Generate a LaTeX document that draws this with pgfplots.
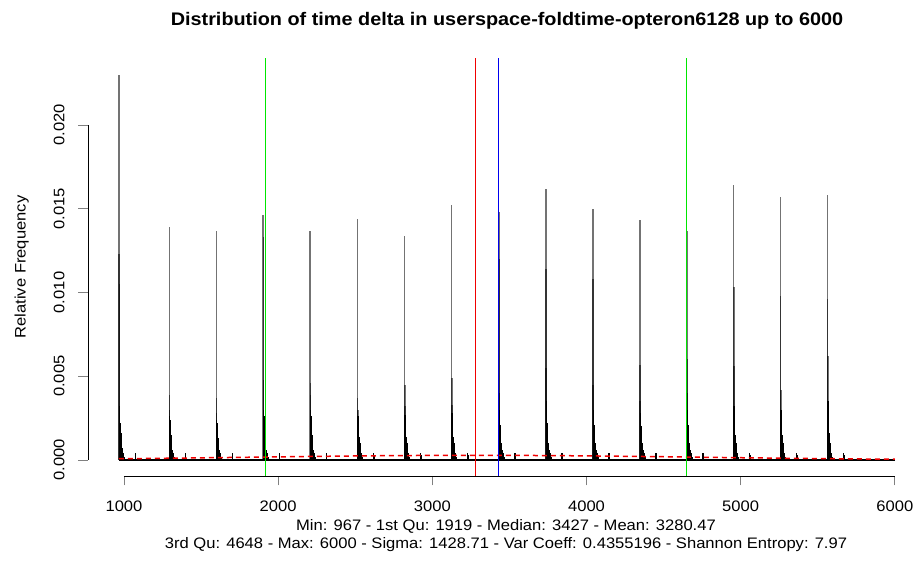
\documentclass[border=0pt]{standalone}
\usepackage{fontspec}
\setmainfont{Liberation Sans}[FakeStretch=1.09]
\usepackage{pgfplots}
\pgfplotsset{compat=1.18}
\definecolor{lgreen}{RGB}{0,230,0}
\definecolor{lred}{RGB}{240,0,0}
\definecolor{lblue}{RGB}{0,0,240}
\begin{document}
\begin{tikzpicture}
\useasboundingbox (0,0) rectangle (916pt,561pt);
\begin{axis}[
  at={(88pt,85pt)}, anchor=south west,
  scale only axis, width=813pt, height=418pt,
  xmin=766.5, xmax=6040, ymin=-0.000955, ymax=0.0240,
  axis line style={draw=none},
  tick pos=left, tick align=outside, major tick length=9.5pt,
  every tick/.append style={line width=0.8pt},
  scaled y ticks=false,
  xtick={1000,2000,3000,4000,5000,6000},
  xticklabels={1000,2000,3000,4000,5000,6000},
  ytick={0,0.005,0.010,0.015,0.020},
  yticklabels={0.000,0.005,0.010,0.015,0.020},
  tick label style={font=\fontsize{15.2}{18}\selectfont},
  xticklabel style={anchor=base, yshift=-26pt},
  yticklabel style={xshift=-14pt, rotate=90, anchor=base},
  clip=false,
]
% peaks of each spike
\addplot[ycomb, color=black, opacity=0.55, line width=1.6pt] coordinates {
(968,0.0230) (1294,0.0139) (1599,0.0137) (1903,0.0146) (2208,0.0137) (2514,0.0144)
(2820,0.0134) (3125,0.0152) (3432,0.0148) (3736,0.0162) (4041,0.0150) (4346,0.0143)
(4650,0.0137) (4954,0.0164) (5258,0.0157) (5563,0.0158)
};
% second value of each spike
\addplot[ycomb, color=black, opacity=0.55, line width=1.6pt] coordinates {
(969,0.0123) (1295,0.0039) (1600,0.0037) (1904,0.0133) (2209,0.0046) (2515,0.0037)
(2821,0.0045) (3126,0.0049) (3433,0.0120) (3737,0.0114) (4042,0.0108) (4347,0.0057)
(4651,0.0060) (4955,0.0103) (5259,0.0098) (5564,0.0096)
};
% third value of each spike
\addplot[ycomb, color=black, opacity=0.55, line width=1.6pt] coordinates {
(970,0.0105) (1296,0.0030) (1601,0.0028) (1905,0.0048) (2210,0.0039) (2516,0.0030)
(2822,0.0032) (3127,0.0033) (3434,0.0040) (3738,0.0055) (4043,0.0045) (4348,0.0035)
(4652,0.0040) (4956,0.0056) (5260,0.0042) (5565,0.0062)
};
% tails
\addplot[ycomb, color=black, line width=1.3pt] coordinates {
(971,0.0032) (973,0.0027) (976,0.0022) (980,0.0016) (984,0.0011) (989,0.0007) (995,0.0004) (1002,0.0002) (1073,0.0004) (1075,0.0003)
(1297,0.0026) (1299,0.0024) (1302,0.0020) (1306,0.0015) (1310,0.0010) (1315,0.0006) (1321,0.0004) (1328,0.0002) (1399,0.0004) (1401,0.0003)
(1602,0.0024) (1604,0.0022) (1607,0.0018) (1611,0.0013) (1615,0.0009) (1620,0.0006) (1626,0.0004) (1633,0.0002) (1704,0.0004) (1706,0.0003)
(1906,0.0030) (1908,0.0026) (1911,0.0021) (1915,0.0015) (1919,0.0010) (1924,0.0006) (1930,0.0004) (1937,0.0002) (2008,0.0004) (2010,0.0003)
(2211,0.0030) (2213,0.0026) (2216,0.0021) (2220,0.0015) (2224,0.0010) (2229,0.0006) (2235,0.0004) (2242,0.0002) (2313,0.0004) (2315,0.0003)
(2517,0.0026) (2519,0.0024) (2522,0.0020) (2526,0.0014) (2530,0.0010) (2535,0.0006) (2541,0.0004) (2548,0.0002) (2619,0.0004) (2621,0.0003)
(2823,0.0027) (2825,0.0024) (2828,0.0020) (2832,0.0014) (2836,0.0010) (2841,0.0006) (2847,0.0004) (2854,0.0002) (2925,0.0004) (2927,0.0003)
(3128,0.0028) (3130,0.0025) (3133,0.0020) (3137,0.0014) (3141,0.0010) (3146,0.0006) (3152,0.0004) (3159,0.0002) (3230,0.0004) (3232,0.0003)
(3435,0.0030) (3437,0.0026) (3440,0.0021) (3444,0.0015) (3448,0.0010) (3453,0.0006) (3459,0.0004) (3466,0.0002) (3537,0.0004) (3539,0.0003)
(3739,0.0035) (3741,0.0029) (3744,0.0022) (3748,0.0016) (3752,0.0010) (3757,0.0006) (3763,0.0004) (3770,0.0002) (3841,0.0004) (3843,0.0003)
(4044,0.0030) (4046,0.0026) (4049,0.0021) (4053,0.0015) (4057,0.0010) (4062,0.0006) (4068,0.0004) (4075,0.0002) (4146,0.0004) (4148,0.0003)
(4349,0.0028) (4351,0.0025) (4354,0.0020) (4358,0.0014) (4362,0.0010) (4367,0.0006) (4373,0.0004) (4380,0.0002) (4451,0.0004) (4453,0.0003)
(4653,0.0030) (4655,0.0026) (4658,0.0021) (4662,0.0015) (4666,0.0010) (4671,0.0006) (4677,0.0004) (4684,0.0002) (4755,0.0004) (4757,0.0003)
(4957,0.0032) (4959,0.0027) (4962,0.0021) (4966,0.0015) (4970,0.0010) (4975,0.0006) (4981,0.0004) (4988,0.0002) (5059,0.0004) (5061,0.0003)
(5261,0.0030) (5263,0.0026) (5266,0.0021) (5270,0.0015) (5274,0.0010) (5279,0.0006) (5285,0.0004) (5292,0.0002) (5363,0.0004) (5365,0.0003)
(5566,0.0035) (5568,0.0029) (5571,0.0022) (5575,0.0016) (5579,0.0010) (5584,0.0006) (5590,0.0004) (5597,0.0002) (5668,0.0004) (5670,0.0003)
};
% baseline of near-zero values
\addplot[color=black, line width=2pt] coordinates {(967,0) (6000,0)};
% normal curve (dashed red)
\addplot[color=lred, line width=1.5pt, dash pattern=on 5pt off 4pt] coordinates {
(967,0.0000753) (1250,0.0001018) (1500,0.0001285) (1750,0.0001574) (2000,0.000187)
(2250,0.0002154) (2500,0.0002407) (2750,0.0002608) (3000,0.000274) (3250,0.0002793)
(3500,0.0002761) (3750,0.0002647) (4000,0.0002461) (4250,0.0002219) (4500,0.0001941)
(4750,0.0001646) (5000,0.0001354) (5250,0.000108) (5500,0.0000836) (5750,0.0000627) (6000,0.0000457)
};
% quartiles (green), mean (red), median (blue)
\draw[lgreen, line width=1.3pt] (axis cs:1919,-0.000955) -- (axis cs:1919,0.0240);
\draw[lgreen, line width=1.3pt] (axis cs:4648,-0.000955) -- (axis cs:4648,0.0240);
\draw[lred, line width=1.3pt] (axis cs:3280.47,-0.000955) -- (axis cs:3280.47,0.0240);
\draw[lblue, line width=1.3pt] (axis cs:3427,-0.000955) -- (axis cs:3427,0.0240);
% R style axis lines
\draw[black, line width=0.8pt] (axis cs:1000,-0.000955) -- (axis cs:6000,-0.000955);
\draw[black, line width=0.8pt] (axis cs:766.5,0) -- (axis cs:766.5,0.020);
\end{axis}
\node[anchor=base, font=\bfseries\fontsize{18.2}{22}\selectfont] at (507pt,535pt)
  {Distribution of time delta in userspace-foldtime-opteron6128 up to 6000};
\node[anchor=base, font=\fontsize{15.2}{18}\selectfont] at (506pt,30.3pt)
  {Min: 967 - 1st Qu: 1919 - Median: 3427 - Mean: 3280.47};
\node[anchor=base, font=\fontsize{15.2}{18}\selectfont] at (506pt,12pt)
  {3rd Qu: 4648 - Max: 6000 - Sigma: 1428.71 - Var Coeff: 0.4355196 - Shannon Entropy: 7.97};
\node[rotate=90, anchor=base, font=\fontsize{15.2}{18}\selectfont] at (25.5pt,294pt)
  {Relative Frequency};
\end{tikzpicture}
\end{document}
